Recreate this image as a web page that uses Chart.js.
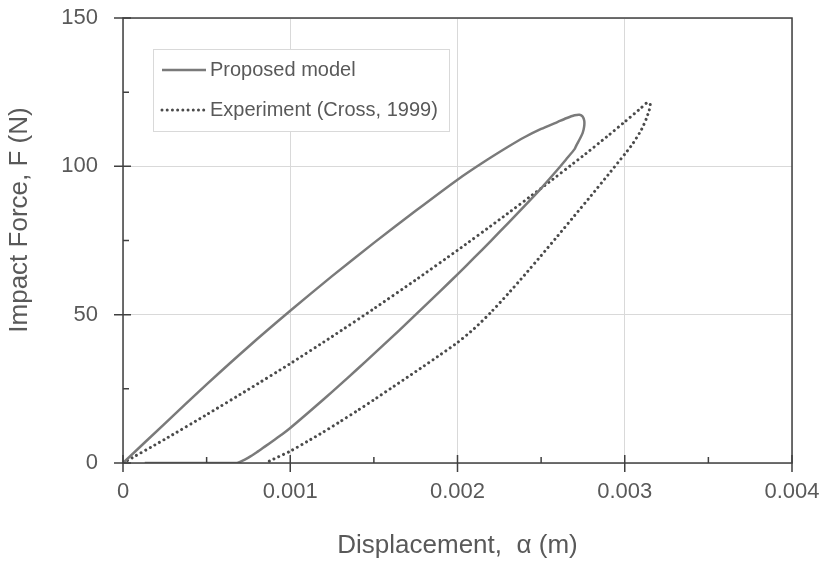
<!DOCTYPE html>
<html>
<head>
<meta charset="utf-8">
<script src="https://cdn.jsdelivr.net/npm/chart.js@4"></script>
<style>
  html, body { margin: 0; padding: 0; background: #fff; }
  #wrap { width: 827px; height: 563px; }
</style>
</head>
<body>
<div id="wrap"><canvas id="chart" width="827" height="563"></canvas></div>
<script>
// Proposed model: loading branch up to the tip, then unloading back to zero
const modelX = [0, 0.00025, 0.0005, 0.00075, 0.001, 0.00125, 0.0015, 0.00175, 0.002, 0.00215, 0.0023, 0.0024, 0.0025, 0.0026, 0.00265, 0.0027,
  0.00273, 0.002748, 0.002758, 0.002757, 0.002748, 0.002732, 0.00271, 0.0027, 0.00265, 0.0026, 0.0025, 0.0024, 0.0023, 0.0022, 0.0021, 0.002,
  0.0019, 0.0018, 0.0017, 0.0016, 0.0015, 0.0014, 0.0013, 0.0012, 0.0011, 0.001, 0.00095, 0.0009, 0.00085, 0.0008, 0.00075, 0.0007, 0.00068, 0.00013];
const modelF = [0, 13.3, 26.5, 39.2, 51.3, 63, 74.2, 85, 95.5, 101.2, 106.5, 109.8, 112.6, 115, 116.2, 117.2,
  117.4, 116.8, 115.3, 113.3, 111.2, 109.3, 107, 105.8, 102.4, 99, 92.6, 86.6, 80.7, 74.9, 69.2, 63.6,
  58.1, 52.7, 47.3, 42, 36.8, 31.6, 26.5, 21.5, 16.6, 11.8, 9.6, 7.6, 5.6, 3.6, 1.8, 0.4, 0, 0];

// Experiment (Cross, 1999)
const expX = [0, 0.00025, 0.0005, 0.00075, 0.001, 0.00125, 0.0015, 0.00175, 0.002, 0.00225, 0.0025, 0.00275, 0.0029, 0.003, 0.0031, 0.00313, 0.00315,
  0.003153, 0.003145, 0.00313, 0.0031, 0.00305, 0.003, 0.0029, 0.0028, 0.0027, 0.0026, 0.0025, 0.0024, 0.0023, 0.0022, 0.0021, 0.002,
  0.0019, 0.0018, 0.0017, 0.0016, 0.0015, 0.0014, 0.0013, 0.0012, 0.0011, 0.001, 0.0009, 0.00085];
const expF = [0, 8, 16.3, 24.8, 33.5, 42.6, 52, 61.7, 71.7, 82, 92.6, 103.5, 110.3, 115, 119.8, 121.3, 121.2,
  120.3, 118.7, 116.2, 112.4, 107.8, 104.1, 97.1, 90.2, 83.4, 76.6, 69.9, 63.3, 56.9, 50.8, 45.3, 40.6,
  36.6, 32.7, 28.9, 25.1, 21.3, 17.6, 14, 10.5, 7.2, 4, 1.3, 0];

const xTicks = [0, 0.001, 0.002, 0.003, 0.004];
const xTickLabels = ['0', '0.001', '0.002', '0.003', '0.004'];
const yTicks = [0, 50, 100, 150];
const yTickLabels = ['0', '50', '100', '150'];

const seriesNames = ['Proposed model', 'Experiment (Cross, 1999)'];
const xTitle = 'Displacement,  α (m)';
const yTitle = 'Impact Force, F (N)';

const textColor = '#595959';
const fontFamily = '"Liberation Sans", Arial, sans-serif';

function toPoints(xs, ys) {
  return xs.map((x, i) => ({ x: x, y: ys[i] }));
}

// frame, crossing major ticks, inner minor ticks, y title
const axisTicks = {
  id: 'axisTicks',
  afterDatasetsDraw(chart) {
    const { ctx, chartArea: a, scales } = chart;
    const xs = scales.x, ys = scales.y;
    ctx.save();
    ctx.strokeStyle = '#404040';
    ctx.lineWidth = 1.5;
    ctx.strokeRect(a.left, a.top, a.right - a.left, a.bottom - a.top);
    ctx.beginPath();
    xTicks.forEach(v => {
      const px = xs.getPixelForValue(v);
      ctx.moveTo(px, a.bottom - 8);
      ctx.lineTo(px, a.bottom + 9);
    });
    for (let i = 0; i < xTicks.length - 1; i++) {
      const px = xs.getPixelForValue((xTicks[i] + xTicks[i + 1]) / 2);
      ctx.moveTo(px, a.bottom);
      ctx.lineTo(px, a.bottom - 6);
    }
    yTicks.forEach(v => {
      const py = ys.getPixelForValue(v);
      ctx.moveTo(a.left - 9, py);
      ctx.lineTo(a.left + 8, py);
    });
    for (let i = 0; i < yTicks.length - 1; i++) {
      const py = ys.getPixelForValue((yTicks[i] + yTicks[i + 1]) / 2);
      ctx.moveTo(a.left, py);
      ctx.lineTo(a.left + 6, py);
    }
    ctx.stroke();

    // y title sits a bit above the plot's middle in the original
    ctx.translate(20, 220);
    ctx.rotate(-Math.PI / 2);
    ctx.fillStyle = textColor;
    ctx.font = '26px ' + fontFamily;
    ctx.textAlign = 'center';
    ctx.textBaseline = 'middle';
    ctx.fillText(yTitle, 0, 0);
    ctx.restore();
  }
};

// boxed legend inside the plot
const boxLegend = {
  id: 'boxLegend',
  afterDraw(chart) {
    const { ctx } = chart;
    const bx = 153, by = 49, bw = 296, bh = 82;
    ctx.save();
    ctx.fillStyle = '#fff';
    ctx.fillRect(bx, by, bw, bh);
    ctx.strokeStyle = '#d9d9d9';
    ctx.lineWidth = 1;
    ctx.strokeRect(bx + 0.5, by + 0.5, bw, bh);
    chart.data.datasets.forEach((ds, i) => {
      const cy = 70 + i * 40;
      ctx.beginPath();
      ctx.strokeStyle = ds.borderColor;
      ctx.lineWidth = ds.borderWidth;
      ctx.lineCap = ds.borderCapStyle || 'butt';
      ctx.setLineDash(ds.borderDash || []);
      ctx.moveTo(162, cy);
      ctx.lineTo(206, cy);
      ctx.stroke();
      ctx.setLineDash([]);
      ctx.fillStyle = textColor;
      ctx.font = '20px ' + fontFamily;
      ctx.textBaseline = 'middle';
      ctx.fillText(ds.label, 210, cy);
    });
    ctx.restore();
  }
};

function noOverflow(scale) {
  scale.paddingTop = 0;
  scale.paddingBottom = 0;
  scale.paddingLeft = 0;
  scale.paddingRight = 0;
}

new Chart(document.getElementById('chart'), {
  type: 'scatter',
  data: {
    datasets: [
      {
        label: seriesNames[0],
        data: toPoints(modelX, modelF),
        showLine: true,
        borderColor: '#7a7a7a',
        borderWidth: 2.5,
        tension: 0.2,
        pointRadius: 0
      },
      {
        label: seriesNames[1],
        data: toPoints(expX, expF),
        showLine: true,
        borderColor: '#4a4a4a',
        borderWidth: 3,
        borderDash: [0.01, 5.2],
        borderCapStyle: 'round',
        tension: 0.2,
        pointRadius: 0
      }
    ]
  },
  options: {
    responsive: false,
    animation: false,
    layout: { padding: { top: 18, right: 35, left: 0, bottom: 0 } },
    plugins: {
      legend: { display: false },
      tooltip: { enabled: false }
    },
    scales: {
      x: {
        type: 'linear',
        min: 0,
        max: 0.004,
        afterFit(scale) { scale.height = 100; noOverflow(scale); },
        afterBuildTicks(scale) { scale.ticks = xTicks.map(v => ({ value: v })); },
        grid: { color: '#d9d9d9', drawTicks: false },
        border: { display: false },
        ticks: {
          padding: 16,
          color: textColor,
          font: { family: fontFamily, size: 22 },
          maxRotation: 0,
          callback: (v) => xTickLabels[xTicks.indexOf(v)]
        },
        title: {
          display: true,
          text: xTitle,
          color: textColor,
          font: { family: fontFamily, size: 26 },
          padding: { top: 0, bottom: 2 }
        }
      },
      y: {
        type: 'linear',
        min: 0,
        max: 150,
        afterFit(scale) { scale.width = 123; noOverflow(scale); },
        afterBuildTicks(scale) { scale.ticks = yTicks.map(v => ({ value: v })); },
        grid: { color: '#d9d9d9', drawTicks: false },
        border: { display: false },
        ticks: {
          padding: 25,
          color: textColor,
          font: { family: fontFamily, size: 22 },
          callback: (v) => yTickLabels[yTicks.indexOf(v)]
        }
      }
    }
  },
  plugins: [axisTicks, boxLegend]
});
</script>
</body>
</html>
